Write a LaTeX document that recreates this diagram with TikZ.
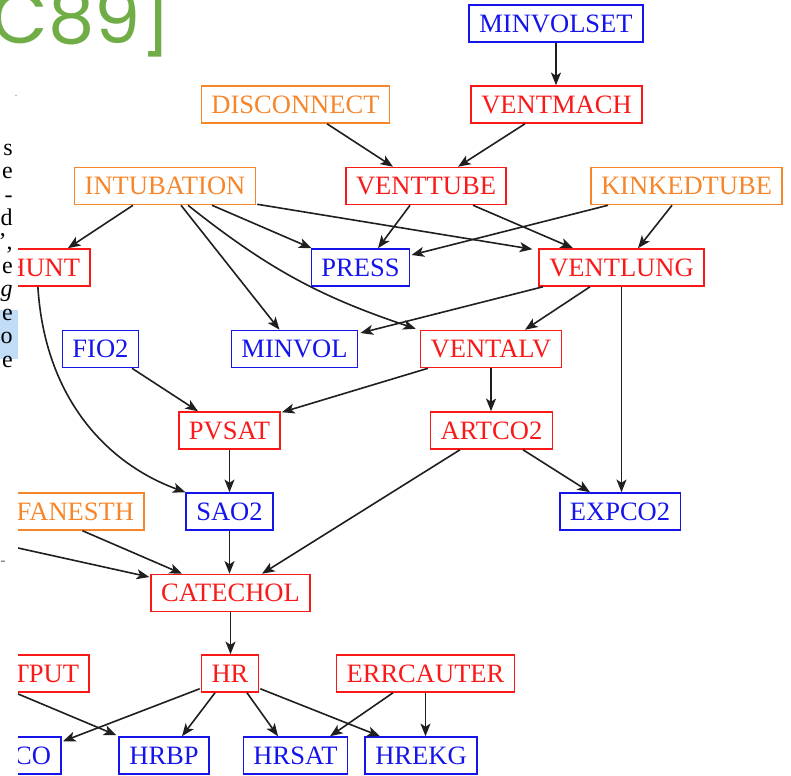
\documentclass[tikz,border=0pt]{standalone}
\usepackage{fontspec}
\setmainfont{Liberation Serif}
\newfontfamily\citefont{Poppins}
\usetikzlibrary{calc,arrows.meta}

\definecolor{bnred}{RGB}{250,25,25}
\definecolor{bnblue}{RGB}{20,20,235}
\definecolor{bnorange}{RGB}{247,134,43}
\definecolor{citegreen}{RGB}{112,173,71}
\definecolor{markblue}{RGB}{192,220,246}

\begin{document}
\begin{tikzpicture}[x=0.75pt,y=-0.75pt,
  bnbox/.style={draw, line width=1.15pt, inner xsep=7.6pt, inner ysep=0pt,
    minimum height=27.75pt, font=\fontsize{19.9}{24}\selectfont},
  obsbox/.style={bnbox, bnblue},
  hidbox/.style={bnbox, bnred},
  rootbox/.style={bnbox, bnorange},
  arr/.style={-{Stealth[length=9.5pt,width=7.5pt,inset=2.4pt]}, line width=1.2pt, black!88},
  colword/.style={anchor=base east, inner sep=0pt, font=\fontsize{18}{20}\selectfont}
]
\useasboundingbox (0,0) rectangle (791,775);
\clip (0,0) rectangle (791,775);

% line ends of the neighbouring paragraph
\fill[markblue] (0,310) rectangle (18,359);
\node[colword] (w1)  at (13,155)   {s};
\node[colword] (w2)  at (13,178.6) {e};
\node[colword] (w3)  at (13,202.2) {-};
\node[colword] (w4)  at (13,225.8) {d};
\node[colword] (w5)  at (13,249.4) {’,};
\node[colword] (w6)  at (13,273)   {e};
\node[colword] (w7)  at (13,296.6) {\textit{g}};
\node[colword] (w8)  at (13,320.2) {e};
\node[colword] (w9)  at (13,343.8) {o};
\node[colword] (w10) at (13,367.4) {e};
\node[colword, text=black!45, font=\fontsize{9}{10}\selectfont] (dot) at (18,96) {.};
\node[colword, text=black!55, font=\fontsize{12}{14}\selectfont] (dash) at (6,565) {-};

% citation
\node[anchor=base east, inner sep=0pt, text=citegreen,
  font=\citefont\fontsize{55}{60}\selectfont] (cite) at (172,43) {[BSCC89]};

\begin{scope}
\clip (18,0) rectangle (791,775);

% network nodes
\node[obsbox]  (minvolset) at (556,23.5)    {MINVOLSET};
\node[rootbox] (disconnect) at (295.5,104.5) {DISCONNECT};
\node[hidbox]  (ventmach) at (556.5,104.5)  {VENTMACH};
\node[rootbox] (intub) at (165,186)         {INTUBATION};
\node[hidbox]  (venttube) at (426,186)      {VENTTUBE};
\node[rootbox] (kinked) at (686.5,186)      {KINKEDTUBE};
\node[hidbox, anchor=east] (shunt) at (91,267.5) {SHUNT};
\node[obsbox]  (press) at (360.5,267.5)     {PRESS};
\node[hidbox]  (ventlung) at (621.5,267.5)  {VENTLUNG};
\node[obsbox]  (fio2) at (100.5,349)        {FIO2};
\node[obsbox]  (minvol) at (294.5,349)      {MINVOL};
\node[hidbox]  (ventalv) at (491,349)       {VENTALV};
\node[hidbox]  (pvsat) at (229.5,430.5)     {PVSAT};
\node[hidbox]  (artco2) at (491.5,430.5)    {ARTCO2};
\node[rootbox, anchor=east] (insuff) at (145,511.5) {INSUFFANESTH};
\node[obsbox]  (sao2) at (229.5,511.5)      {SAO2};
\node[obsbox]  (expco2) at (620,511.5)      {EXPCO2};
\node[hidbox]  (catechol) at (230.5,593)    {CATECHOL};
\node[hidbox, anchor=east] (errlow) at (90,673.5) {ERRLOWOUTPUT};
\node[hidbox]  (hr) at (230,673.5)          {HR};
\node[hidbox]  (errcauter) at (425.5,673.5) {ERRCAUTER};
\node[obsbox, anchor=east] (co) at (62,755.5) {CO};
\node[obsbox]  (hrbp) at (164,755.5)        {HRBP};
\node[obsbox]  (hrsat) at (295.5,755.5)     {HRSAT};
\node[obsbox]  (hrekg) at (421,755.5)       {HREKG};
\coordinate (tprtail) at (0,544);

% dependencies
\draw[arr] (minvolset.south) -- (ventmach.north -| minvolset.south);
\draw[arr] ($(disconnect.south)+(31.5,0)$) -- ($(venttube.north)+(-33,0)$);
\draw[arr] ($(ventmach.south)+(-31.5,0)$) -- ($(venttube.north)+(32,0)$);

\draw[arr] ($(intub.south)+(-32,0)$) -- ($(shunt.north)+(32,0)$);
\draw[arr] ($(intub.south)+(47,0)$) -- ($(press.north west)+(1,0)$);
\draw[arr] ($(intub.south)+(16,0)$) -- ($(minvol.north)+(-15,0)$);
\draw[arr] ($(intub.south)+(23,0)$) to[bend right=10] ($(ventalv.north west)+(-4,-1)$);
\draw[arr] ($(intub.south east)+(1,-1)$) -- ($(ventlung.north west)+(-6,1)$);

\draw[arr] ($(venttube.south)+(-16,0)$) -- ($(press.north)+(17.5,0)$);
\draw[arr] ($(venttube.south)+(47,0)$) -- ($(ventlung.north)+(-48.5,0)$);
\draw[arr] ($(kinked.south)+(-78.5,0)$) -- ($(press.east)+(1,-12.5)$);
\draw[arr] ($(kinked.south)+(-14.5,0)$) -- ($(ventlung.north)+(16.5,0)$);

\draw[arr] ($(ventlung.south)+(-78.5,0)$) -- ($(minvol.east)+(2,-16)$);
\draw[arr] ($(ventlung.south)+(-31.5,0)$) -- ($(ventalv.north)+(34,0)$);
\draw[arr] (ventlung.south) -- (ventlung.south |- expco2.north);

\draw[arr] ($(shunt.south)+(2,0)$) .. controls +(7,113) and +(-77,-28) .. (sao2.north west);
\draw[arr] ($(fio2.south)+(31.5,0)$) -- ($(pvsat.north)+(-31.5,0)$);
\draw[arr] ($(ventalv.south)+(-63,0)$) -- ($(pvsat.north east)+(1,1)$);
\draw[arr] (ventalv.south) -- (artco2.north -| ventalv.south);
\draw[arr] (pvsat.south) -- (sao2.north);

\draw[arr] ($(artco2.south)+(31.5,0)$) -- ($(expco2.north)+(-30,0)$);
\draw[arr] ($(artco2.south)+(-31.5,0)$) -- ($(catechol.north)+(31.5,0)$);
\draw[arr] (sao2.south) -- (catechol.north -| sao2.south);
\draw[arr] ($(insuff.south)+(45.5,0)$) -- ($(catechol.north)+(-48.5,0)$);
\draw[arr] (tprtail) -- ($(catechol.west)+(-1,-16)$);

\draw[arr] (catechol.south) -- (hr.north -| catechol.south);
\draw[arr] ($(hr.south west)+(-1,-4)$) -- ($(co.north east)+(1,5)$);
\draw[arr] ($(hr.south)+(-15,0)$) -- ($(hrbp.north)+(18,0)$);
\draw[arr] ($(hr.south)+(17,0)$) -- ($(hrsat.north)+(-17.5,0)$);
\draw[arr] ($(hr.south east)+(1,-4)$) -- ($(hrekg.north)+(-41,0)$);
\draw[arr] ($(errcauter.south)+(-32.5,0)$) -- ($(hrsat.north)+(34.5,0)$);
\draw[arr] (errcauter.south) -- (hrekg.north -| errcauter.south);
\draw[arr] ($(errlow.south)+(44.5,0)$) -- ($(hrbp.north west)+(-2,-1)$);
\end{scope}
\end{tikzpicture}
\end{document}
